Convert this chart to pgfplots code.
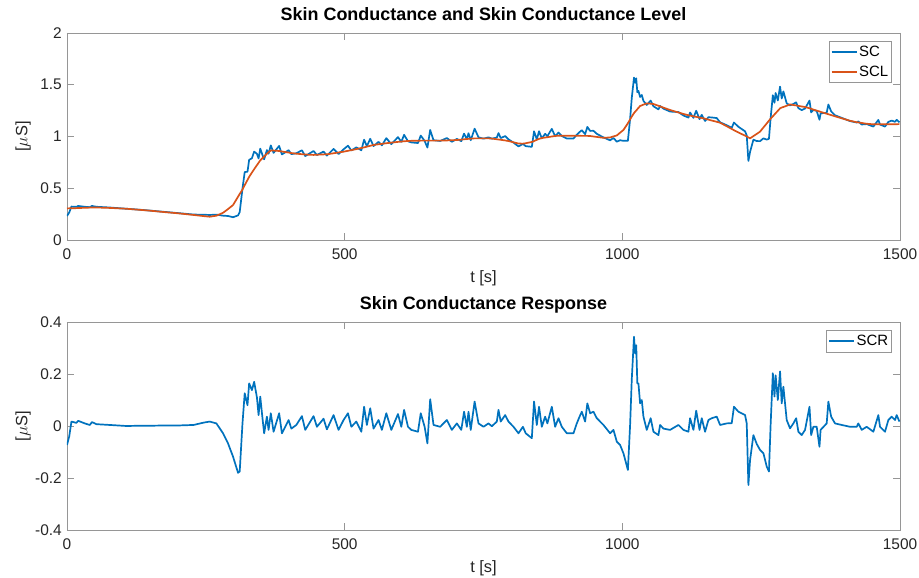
\documentclass[border=0pt]{standalone}
\usepackage{fontspec}
\setmainfont{Liberation Sans}
\usepackage{pgfplots}
\pgfplotsset{compat=1.18}
\usepackage{pgfplotstable}
\definecolor{mblue}{rgb}{0,0.447,0.741}
\definecolor{morange}{rgb}{0.85,0.325,0.098}
\definecolor{axgray}{RGB}{150,150,150}
\definecolor{txt}{RGB}{38,38,38}

\pgfplotstableread{
t scl scr sc
0 0.305 -0.073 0.232
4 0.306 -0.040 0.266
8 0.306 0.017 0.323
17 0.308 0.012 0.320
20 0.309 0.020 0.329
32 0.311 0.010 0.321
41 0.313 0.004 0.317
45 0.314 0.015 0.329
53 0.314 0.007 0.321
77 0.310 0.004 0.314
107 0.302 0.000 0.302
130 0.292 0.001 0.293
150 0.283 0.001 0.284
175 0.270 0.002 0.272
200 0.258 0.002 0.260
228 0.242 0.004 0.246
246 0.231 0.013 0.244
257 0.225 0.017 0.242
269 0.235 0.010 0.245
281 0.263 -0.028 0.235
290 0.299 -0.067 0.232
299 0.338 -0.118 0.220
308 0.418 -0.180 0.238
311 0.445 -0.175 0.270
316 0.487 0.010 0.497
320 0.530 0.126 0.656
325 0.580 0.080 0.660
328 0.610 0.164 0.774
333 0.652 0.138 0.790
337 0.684 0.170 0.854
342 0.723 0.110 0.833
345 0.746 0.042 0.788
348 0.770 0.113 0.883
352 0.791 0.030 0.821
355 0.807 -0.028 0.779
360 0.833 0.036 0.869
363 0.849 -0.015 0.834
367 0.865 0.049 0.914
372 0.864 -0.022 0.842
382 0.860 0.049 0.909
387 0.855 -0.028 0.827
393 0.850 -0.003 0.847
399 0.845 0.023 0.868
404 0.840 -0.010 0.830
413 0.834 0.004 0.838
423 0.829 0.038 0.867
429 0.826 -0.015 0.811
444 0.822 0.038 0.860
450 0.824 -0.003 0.821
462 0.827 0.028 0.855
468 0.828 -0.013 0.815
480 0.838 0.042 0.880
489 0.846 -0.015 0.831
498 0.853 0.023 0.876
506 0.862 0.049 0.911
512 0.868 -0.003 0.865
521 0.878 0.017 0.895
530 0.889 -0.022 0.867
535 0.895 0.074 0.969
540 0.902 0.004 0.906
546 0.910 0.068 0.978
552 0.918 -0.010 0.908
561 0.925 0.023 0.948
567 0.929 -0.015 0.914
575 0.935 0.049 0.984
584 0.941 -0.015 0.926
596 0.948 0.046 0.994
602 0.951 -0.003 0.948
607 0.954 0.062 1.016
614 0.957 -0.003 0.954
620 0.958 -0.015 0.943
632 0.959 -0.022 0.937
637 0.960 0.049 1.009
644 0.960 -0.003 0.957
649 0.960 -0.067 0.893
654 0.960 0.103 1.063
660 0.960 0.004 0.964
672 0.960 -0.003 0.957
684 0.962 0.023 0.985
693 0.964 -0.015 0.949
702 0.966 0.010 0.976
710 0.970 -0.015 0.955
715 0.973 0.055 1.028
720 0.976 -0.003 0.973
723 0.977 0.055 1.032
727 0.979 -0.015 0.964
734 0.982 0.094 1.076
741 0.982 0.010 0.992
750 0.982 -0.003 0.979
759 0.982 0.010 0.992
765 0.980 -0.001 0.979
774 0.973 0.017 0.990
777 0.971 0.062 1.033
781 0.968 0.017 0.985
789 0.962 0.042 1.004
795 0.956 0.017 0.973
804 0.944 -0.003 0.941
813 0.932 -0.028 0.904
821 0.931 -0.003 0.928
826 0.935 -0.028 0.907
837 0.947 -0.047 0.900
841 0.956 0.094 1.050
846 0.968 0.004 0.972
850 0.977 0.074 1.051
855 0.985 -0.003 0.982
861 0.990 0.036 1.026
865 0.993 0.010 1.003
873 1.000 0.074 1.074
879 1.005 -0.003 1.002
885 1.008 0.030 1.038
891 1.008 -0.003 1.005
900 1.008 -0.028 0.980
912 1.008 -0.028 0.980
918 1.007 0.010 1.017
923 1.007 0.036 1.043
927 1.006 0.055 1.061
933 1.006 0.017 1.023
937 1.006 0.087 1.093
942 1.005 0.049 1.054
948 1.000 0.055 1.055
954 0.996 0.030 1.026
966 0.987 0.004 0.991
978 0.991 -0.028 0.963
984 1.001 -0.015 0.986
990 1.010 -0.060 0.950
996 1.037 -0.073 0.964
1002 1.063 -0.105 0.958
1010 1.128 -0.169 0.959
1014 1.165 0.004 1.169
1017 1.193 0.180 1.373
1021 1.226 0.343 1.569
1023 1.239 0.279 1.518
1025 1.251 0.311 1.562
1027 1.264 0.164 1.428
1029 1.276 0.164 1.440
1032 1.295 0.087 1.382
1035 1.301 0.100 1.401
1038 1.308 0.036 1.344
1044 1.320 -0.015 1.305
1051 1.317 0.030 1.347
1056 1.314 -0.022 1.292
1065 1.297 -0.035 1.262
1068 1.291 0.004 1.295
1074 1.279 -0.010 1.269
1086 1.256 -0.015 1.241
1101 1.232 0.004 1.236
1110 1.218 -0.015 1.203
1119 1.205 -0.022 1.183
1122 1.202 0.030 1.232
1128 1.195 -0.015 1.180
1133 1.190 0.059 1.249
1139 1.183 -0.015 1.168
1143 1.179 0.030 1.209
1149 1.172 -0.022 1.150
1155 1.163 0.023 1.186
1161 1.154 0.030 1.184
1170 1.142 0.036 1.178
1176 1.133 0.004 1.137
1188 1.099 0.010 1.109
1197 1.073 0.011 1.084
1201 1.061 0.074 1.135
1209 1.039 0.055 1.094
1221 1.008 0.042 1.050
1224 1.000 0.010 1.010
1227 0.991 -0.227 0.764
1230 0.982 -0.131 0.851
1236 1.004 -0.035 0.969
1242 1.025 -0.069 0.956
1248 1.047 -0.092 0.955
1254 1.087 -0.105 0.982
1260 1.126 -0.156 0.970
1264 1.153 -0.175 0.978
1267 1.172 0.004 1.176
1271 1.195 0.203 1.398
1274 1.213 0.113 1.326
1276 1.225 0.195 1.420
1280 1.248 0.100 1.348
1284 1.272 0.210 1.482
1287 1.280 0.087 1.367
1290 1.285 0.151 1.436
1296 1.297 0.023 1.320
1302 1.310 -0.009 1.301
1308 1.304 0.010 1.314
1313 1.300 0.030 1.330
1317 1.296 -0.022 1.274
1323 1.290 -0.035 1.255
1329 1.285 -0.015 1.270
1337 1.273 0.074 1.347
1340 1.268 -0.035 1.233
1344 1.260 -0.003 1.257
1350 1.250 -0.003 1.247
1355 1.242 -0.080 1.162
1357 1.238 -0.015 1.223
1368 1.220 0.010 1.230
1371 1.215 0.094 1.309
1376 1.207 0.036 1.243
1383 1.195 0.010 1.205
1395 1.176 0.004 1.180
1410 1.152 -0.003 1.149
1422 1.138 -0.003 1.135
1425 1.136 0.010 1.146
1431 1.131 -0.015 1.116
1440 1.123 -0.003 1.120
1452 1.118 -0.022 1.096
1461 1.118 0.042 1.160
1464 1.118 -0.003 1.115
1473 1.118 -0.022 1.096
1479 1.118 0.023 1.141
1485 1.118 0.036 1.154
1491 1.119 0.023 1.142
1494 1.119 0.042 1.161
1499 1.120 0.017 1.137
}\datatable

\pgfplotsset{
  mystyle/.style={
    scale only axis, width=833bp,
    xmin=0, xmax=1500,
    axis line style={axgray, line width=0.7bp},
    tick style={axgray, line width=0.7bp},
    tick align=inside, tick pos=both, major tick length=7bp,
    xtick={0,500,1000,1500},
    xticklabels={0,500,1000,1500},
    ticklabel style={font=\fontsize{15.5}{18}\selectfont, text=txt},
    yticklabel style={anchor=east, inner sep=0pt, xshift=-5bp},
    xticklabel style={anchor=north, inner sep=0pt, yshift=-9bp},
    title style={font=\bfseries\fontsize{18}{21}\selectfont, text=black,
      at={(axis description cs:0.5,1)}, anchor=base, yshift=6.3bp, inner sep=0pt},
    xlabel style={font=\fontsize{16.5}{19}\selectfont, text=txt,
      at={(axis description cs:0.5,0)}, anchor=base, yshift=-42bp, inner sep=0pt},
    ylabel style={font=\fontsize{16.5}{19}\selectfont, text=txt,
      at={(axis description cs:-0.0528,0.5)}, anchor=center, inner sep=0pt},
    legend style={at={(1,1)}, anchor=north east, xshift=-8bp, yshift=-8bp,
      draw=axgray, line width=0.7bp, fill=white,
      font=\fontsize{15}{17}\selectfont, text=black,
      inner xsep=2bp, inner ysep=3.5bp, row sep=4.5bp,
      nodes={inner xsep=1.5bp, inner ysep=1.5bp}},
    legend cell align=left,
    legend image code/.code={\draw[#1, line width=1.7bp] (0bp,0bp) -- (25bp,0bp);},
  }
}

\begin{document}
\begin{tikzpicture}
\begin{axis}[mystyle, name=top, at={(0,0)}, anchor=south west, height=207bp,
  ymin=0, ymax=2, ytick={0,0.5,1,1.5,2}, yticklabels={0,0.5,1,1.5,2},
  title={Skin Conductance and Skin Conductance Level},
  xlabel={t [s]}, ylabel={[$\mu$S]}]
\addplot[mblue, line width=1.7bp, line join=round] table[x=t, y=sc] {\datatable};
\addlegendentry{SC}
\addplot[morange, line width=1.7bp, line join=round] table[x=t, y=scl] {\datatable};
\addlegendentry{SCL}
\end{axis}
\begin{axis}[mystyle, name=bot, at={(0,-82bp)}, anchor=north west, height=208bp,
  ymin=-0.4, ymax=0.4, ytick={-0.4,-0.2,0,0.2,0.4}, yticklabels={-0.4,-0.2,0,0.2,0.4},
  title={Skin Conductance Response},
  xlabel={t [s]}, ylabel={[$\mu$S]}]
\addplot[mblue, line width=1.7bp, line join=round] table[x=t, y=scr] {\datatable};
\addlegendentry{SCR}
\end{axis}
\pgfresetboundingbox
\useasboundingbox (-67bp,240bp) rectangle (852bp,-338bp);
\end{tikzpicture}
\end{document}
